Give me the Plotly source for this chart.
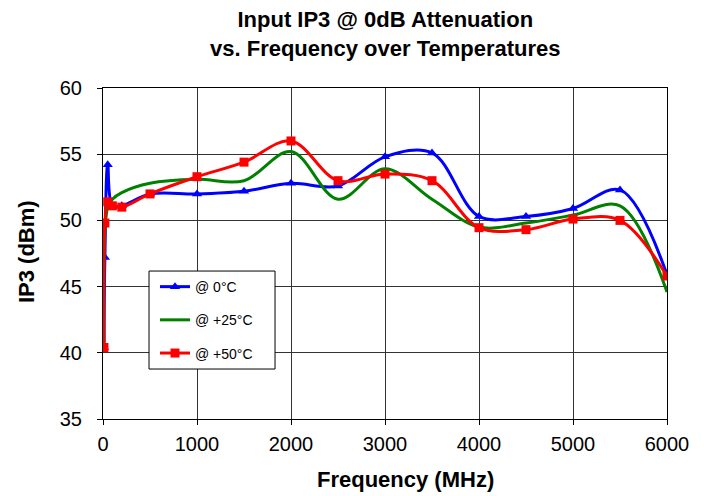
import plotly.graph_objects as go

freq = [10, 20, 50, 100, 200, 500, 1000, 1500, 2000, 2500, 3000, 3500, 4000, 4500, 5000, 5500, 6000]
ip3_0c = [40.4, 47.2, 54.2, 51.1, 51.1, 52.0, 52.0, 52.2, 52.8, 52.6, 54.8, 55.1, 50.3, 50.3, 50.9, 52.3, 45.9]
ip3_25c = [40.4, 49.0, 51.0, 51.6, 52.1, 52.8, 53.1, 53.0, 55.2, 51.6, 53.9, 51.6, 49.5, 49.8, 50.4, 51.1, 44.6]
ip3_50c = [40.4, 49.8, 51.4, 51.1, 51.0, 52.0, 53.3, 54.4, 56.0, 53.0, 53.5, 53.0, 49.45, 49.3, 50.1, 50.0, 45.8]

x_ticks = [0, 1000, 2000, 3000, 4000, 5000, 6000]
y_ticks = [35, 40, 45, 50, 55, 60]

FONT = "Liberation Sans, Arial, sans-serif"

fig = go.Figure()
fig.add_trace(go.Scatter(
    x=freq, y=ip3_0c, name="@ 0°C", mode="lines+markers",
    line=dict(color="#0000FF", width=3, shape="spline", smoothing=1),
    marker=dict(symbol="triangle-up", size=9, color="#0000FF"),
    legendgroup="a"))
fig.add_trace(go.Scatter(
    x=freq, y=ip3_25c, name="@ +25°C", mode="lines",
    line=dict(color="#008000", width=3, shape="spline", smoothing=1),
    legendgroup="b"))
fig.add_trace(go.Scatter(
    x=freq, y=ip3_50c, name="@ +50°C", mode="lines+markers",
    line=dict(color="#FF0000", width=3, shape="spline", smoothing=1),
    marker=dict(symbol="square", size=9, color="#FF0000"),
    legendgroup="c"))

# legend frame
fig.add_shape(type="rect", xref="paper", yref="paper",
              x0=0.0816, x1=0.305, y0=0.151, y1=0.447,
              fillcolor="white", line=dict(color="black", width=1), layer="above")

fig.update_layout(
    width=704, height=496,
    margin=dict(l=95, r=45, t=80, b=85),
    paper_bgcolor="white", plot_bgcolor="white",
    font=dict(family=FONT, color="black"),
    showlegend=True,
    legend=dict(
        x=0.0922, y=0.447, xanchor="left", yanchor="top",
        bgcolor="rgba(0,0,0,0)", borderwidth=0,
        font=dict(size=14, family=FONT, color="black"),
        traceorder="grouped", tracegroupgap=12, itemwidth=30),
    annotations=[
        dict(text="<b>Input IP3 @ 0dB Attenuation<br>vs. Frequency over Temperatures</b>",
             xref="paper", yref="paper", x=0.5, y=1.163,
             xanchor="center", yanchor="middle", showarrow=False,
             font=dict(size=22, family=FONT, color="black")),
        dict(text="<b>Frequency (MHz)</b>", xref="paper", yref="paper",
             x=0.5355, y=-0.184, xanchor="center", yanchor="middle", showarrow=False,
             font=dict(size=22, family=FONT, color="black")),
        dict(text="<b>IP3 (dBm)</b>", xref="paper", yref="paper",
             x=-0.1365, y=0.5045, xanchor="center", yanchor="middle", showarrow=False,
             textangle=-90, font=dict(size=22, family=FONT, color="black")),
    ],
)
fig.update_xaxes(
    range=[0, 6000], tickvals=x_ticks, ticktext=[str(v) for v in x_ticks],
    showgrid=True, gridcolor="#333", gridwidth=1,
    showline=True, linecolor="black", linewidth=1, mirror=True,
    ticks="outside", ticklen=5, tickcolor="black", ticklabelstandoff=2,
    tickfont=dict(size=20, family=FONT, color="black"),
    zeroline=False)
fig.update_yaxes(
    range=[35, 60], tickvals=y_ticks, ticktext=[str(v) for v in y_ticks],
    showgrid=True, gridcolor="#333", gridwidth=1,
    showline=True, linecolor="black", linewidth=1, mirror=True,
    ticks="outside", ticklen=5, tickcolor="black", ticklabelstandoff=11,
    tickfont=dict(size=20, family=FONT, color="black"),
    zeroline=False)

fig.write_html("out.html")
